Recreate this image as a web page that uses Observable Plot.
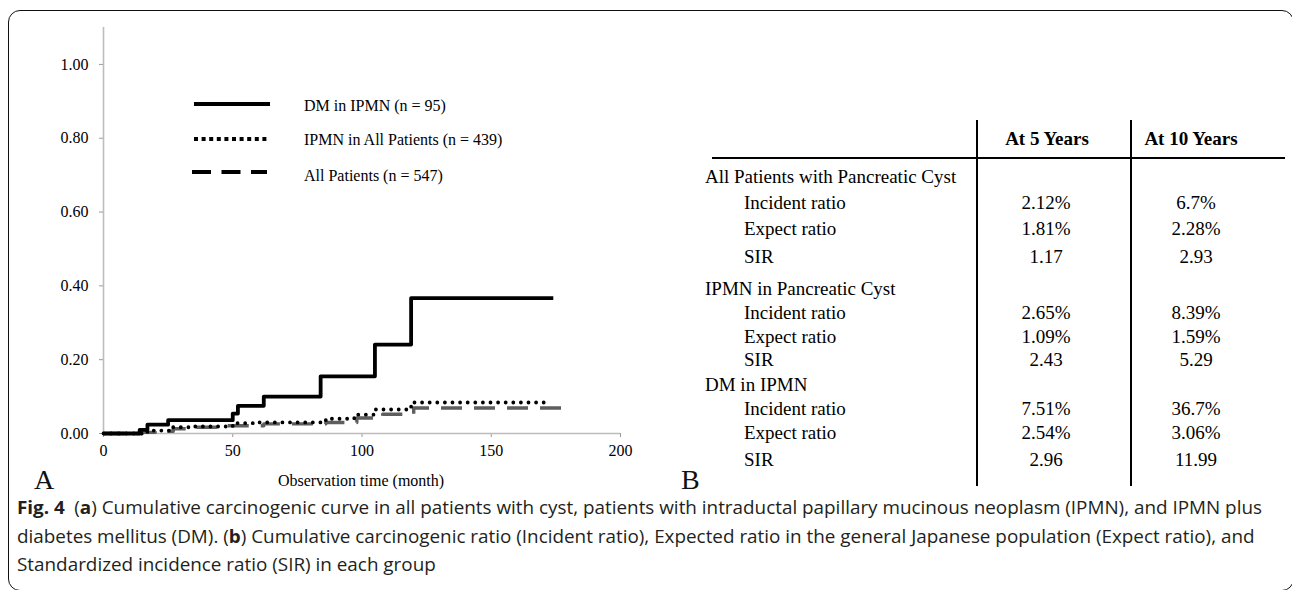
<!DOCTYPE html>
<html>
<head>
<meta charset="utf-8">
<script src="https://cdn.jsdelivr.net/npm/d3@7"></script>
<script src="https://cdn.jsdelivr.net/npm/@observablehq/plot@0.6"></script>
<style>
  html, body { margin: 0; padding: 0; background: #fff; }
  body { width: 1292px; height: 590px; position: relative; overflow: hidden; }
  #frame { position: absolute; left: 8px; top: 10px; width: 1286px; height: 581px;
           border: 1.5px solid #111; border-radius: 12px; box-sizing: border-box; }
  #chart { position: absolute; left: 0; top: 0; }
  #legend { position: absolute; left: 0; top: 0; }
  .panel { position: absolute; font-family: "Liberation Serif", "Times New Roman", serif; font-size: 28px;
           line-height: 22px; color: #111; }
  #table { position: absolute; left: 0; top: 0; width: 1292px; height: 490px;
           font-family: "Liberation Serif", "Times New Roman", serif; font-size: 19px; color: #000; }
  #table .cell { position: absolute; white-space: nowrap; line-height: 20px; transform: translateY(-50%); }
  #table .c { transform: translate(-50%, -50%); }
  #table .hd { font-weight: bold; }
  #caption { position: absolute; left: 17px; top: 499px; font-family: "Open Sans", "Noto Sans", sans-serif;
             font-size: 18px; color: #231f20; white-space: nowrap; transform-origin: 0 0; }
  #caption .ln { display: block; height: 28.5px; line-height: 17px; }
  #xtitle { position: absolute; top: 472px; left: 361px; transform: translateX(-50%);
            font-family: "Liberation Serif", "Times New Roman", serif; font-size: 16px; line-height: 18px; white-space: nowrap; }
</style>
</head>
<body>
<div id="frame"></div>
<div id="chart"></div>
<svg id="legend" width="660" height="220"></svg>
<div class="panel" style="left:34px; top:469px;">A</div>
<div class="panel" style="left:681px; top:469px;">B</div>
<div id="table"></div>
<div id="caption"></div>
<script>
// ---------- data ----------
const dmTime   = [0, 14, 17, 25, 50, 52, 62, 84, 105, 119, 174];
const dmRisk   = [0, 0.010, 0.024, 0.036, 0.054, 0.075, 0.100, 0.155, 0.241, 0.367, 0.367];
const ipmnTime = [0, 15, 17, 26, 34, 50, 58, 86, 97, 105, 119, 172];
const ipmnRisk = [0, 0.004, 0.008, 0.017, 0.019, 0.028, 0.030, 0.040, 0.051, 0.065, 0.084, 0.084];
const allTime  = [0, 15, 20, 27, 34, 48, 62, 86, 98, 108, 120, 178];
const allRisk  = [0, 0.003, 0.006, 0.013, 0.017, 0.021, 0.026, 0.030, 0.042, 0.052, 0.069, 0.069];

const seriesNames = ["DM in IPMN (n = 95)", "IPMN in All Patients (n = 439)", "All Patients (n = 547)"];
const xTicks = [0, 50, 100, 150, 200];
const yTicks = [0, 0.2, 0.4, 0.6, 0.8, 1.0];
const xLabel = "Observation time (month)";

const tableHeaders = ["At 5 Years", "At 10 Years"];
const rowLabels = ["All Patients with Pancreatic Cyst", "Incident ratio", "Expect ratio", "SIR",
                   "IPMN in Pancreatic Cyst", "Incident ratio", "Expect ratio", "SIR",
                   "DM in IPMN", "Incident ratio", "Expect ratio", "SIR"];
const rowIsGroup = [true, false, false, false, true, false, false, false, true, false, false, false];
const at5Years  = ["", "2.12%", "1.81%", "1.17", "", "2.65%", "1.09%", "2.43", "", "7.51%", "2.54%", "2.96"];
const at10Years = ["", "6.7%", "2.28%", "2.93", "", "8.39%", "1.59%", "5.29", "", "36.7%", "3.06%", "11.99"];

const captionLines = [
  [["Fig. 4", true], ["\u2002(", false], ["a", true], [") Cumulative carcinogenic curve in all patients with cyst, patients with intraductal papillary mucinous neoplasm (IPMN), and IPMN plus", false]],
  [["diabetes mellitus (DM). (", false], ["b", true], [") Cumulative carcinogenic ratio (Incident ratio), Expected ratio in the general Japanese population (Expect ratio), and", false]],
  [["Standardized incidence ratio (SIR) in each group", false]]
];

// ---------- chart ----------
const toRows = (ts, rs) => ts.map((t, i) => ({t, r: rs[i]}));
const dm = toRows(dmTime, dmRisk), ipmn = toRows(ipmnTime, ipmnRisk), all = toRows(allTime, allRisk);

const styles = [
  {stroke: "#000", strokeWidth: 3.8, strokeDasharray: null, strokeLinecap: "butt"},
  {stroke: "#000", strokeWidth: 3.8, strokeDasharray: "0 7.6", strokeLinecap: "round"},
  {stroke: "#5e5e5e", strokeWidth: 3.4, strokeDasharray: "21 12", strokeLinecap: "butt"}
];

const plot = Plot.plot({
  width: 660, height: 500,
  marginLeft: 103, marginRight: 40, marginTop: 27, marginBottom: 67,
  style: {fontFamily: "Liberation Serif, Times New Roman, serif", fontSize: "16px", color: "#000", background: "transparent"},
  x: {domain: [0, 200]},
  y: {domain: [0, 1.1]},
  marks: [
    Plot.axisY({ticks: yTicks, tickFormat: d3.format(".2f"), tickSize: 4, tickPadding: 11, stroke: "#999", fill: "#000", label: null, fontSize: 16}),
    Plot.axisX({ticks: xTicks, tickSize: 4, tickPadding: 7, stroke: "#999", fill: "#000", fontSize: 16, label: null}),
    Plot.ruleX([0], {stroke: "#bdbdbd", strokeWidth: 1.6}),
    Plot.ruleY([0], {stroke: "#bdbdbd", strokeWidth: 1.6}),
    Plot.line(all,  {x: "t", y: "r", curve: "step-after", ...styles[2]}),
    Plot.line(ipmn, {x: "t", y: "r", curve: "step-after", ...styles[1]}),
    Plot.line(dm,   {x: "t", y: "r", curve: "step-after", ...styles[0]})
  ]
});
document.getElementById("chart").appendChild(plot);
const xt = document.createElement("div");
xt.id = "xtitle"; xt.textContent = xLabel;
document.body.appendChild(xt);

// ---------- legend ----------
const leg = d3.select("#legend");
const legRowY = [104, 139, 172];
const legTextY = [106, 140, 176];
seriesNames.forEach((name, i) => {
  const ln = leg.append("line")
    .attr("x1", i === 2 ? 192 : 194).attr("x2", i === 2 ? 267 : 270)
    .attr("y1", legRowY[i]).attr("y2", legRowY[i])
    .attr("stroke", "#000")
    .attr("stroke-width", i === 1 ? 4 : 4.2);
  if (i === 1) ln.attr("stroke-dasharray", "4 3.6");
  if (i === 2) ln.attr("stroke-dasharray", "19 10.5");
  leg.append("text").attr("x", 304).attr("y", legTextY[i]).attr("dy", "0.32em")
    .attr("font-family", "Liberation Serif, Times New Roman, serif").attr("font-size", 16)
    .attr("fill", "#000").text(name);
});

// ---------- table ----------
const tbl = document.getElementById("table");
const rowY = [177, 203, 229, 257, 289, 313, 337, 360, 385, 409, 433, 460];
const col1X = 1046, col2X = 1196;
function cell(text, x, y, cls) {
  const d = document.createElement("div");
  d.className = "cell " + (cls || "");
  d.style.left = x + "px"; d.style.top = y + "px";
  d.textContent = text;
  tbl.appendChild(d);
}
cell(tableHeaders[0], 1047, 139, "c hd");
cell(tableHeaders[1], 1191, 139, "c hd");
rowLabels.forEach((lab, i) => {
  cell(lab, rowIsGroup[i] ? 705 : 744, rowY[i]);
  if (at5Years[i]) cell(at5Years[i], col1X, rowY[i], "c");
  if (at10Years[i]) cell(at10Years[i], col2X, rowY[i], "c");
});
function rule(x, y, w, h) {
  const d = document.createElement("div");
  d.style.cssText = `position:absolute;left:${x}px;top:${y}px;width:${w}px;height:${h}px;background:#000;`;
  tbl.appendChild(d);
}
rule(712, 157, 573, 2);
rule(976, 120, 1.5, 366);
rule(1130, 120, 1.5, 366);

// ---------- caption ----------
const cap = document.getElementById("caption");
const spans = captionLines.map(parts => {
  const s = document.createElement("span");
  s.className = "ln";
  parts.forEach(([txt, bold]) => {
    const p = document.createElement(bold ? "b" : "span");
    p.textContent = txt;
    s.appendChild(p);
  });
  cap.appendChild(s);
  return s;
});
// condense horizontally so the first line spans the reference width
const probe = document.createElement("span");
probe.style.display = "inline-block";
probe.innerHTML = spans[0].innerHTML;
cap.appendChild(probe);
const w = probe.getBoundingClientRect().width;
cap.removeChild(probe);
cap.style.transform = `scaleX(${(1245 / w).toFixed(4)})`;
</script>
</body>
</html>
